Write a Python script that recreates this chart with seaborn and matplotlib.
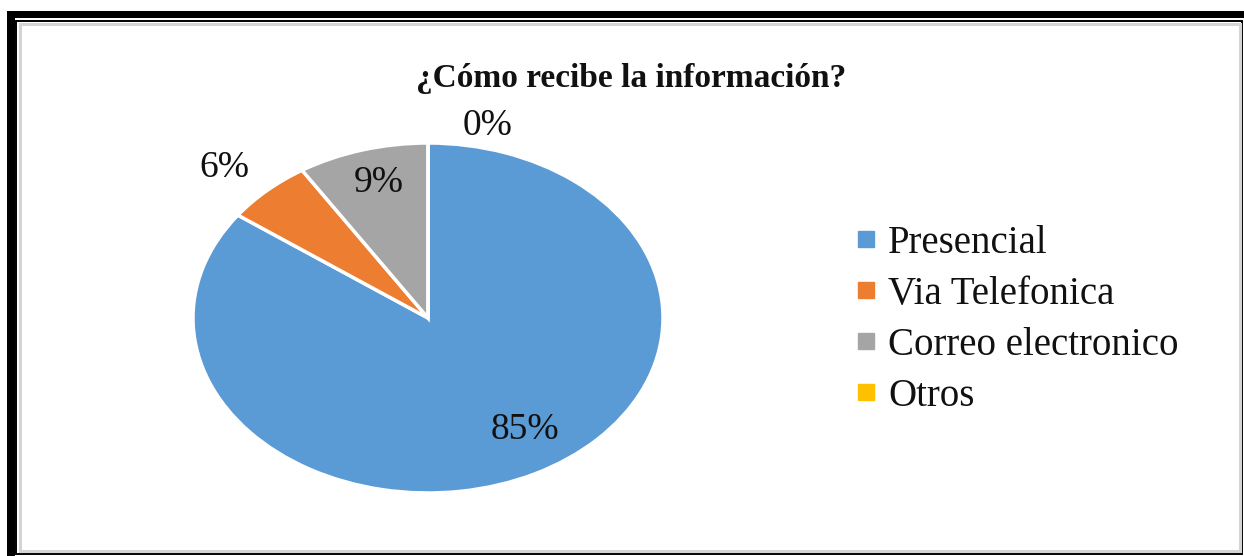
import numpy as np
import matplotlib
matplotlib.use("Agg")
import matplotlib.pyplot as plt
from matplotlib.patches import Rectangle
from matplotlib.lines import Line2D
import seaborn as sns

# data
categories = ["Presencial", "Via Telefonica", "Correo electronico", "Otros"]
percentages = [85, 6, 9, 0]
colors = ["#5B9BD5", "#ED7D31", "#A5A5A5", "#FFC000"]
title = "¿Cómo recibe la información?"

sns.set_theme(style="white")
plt.rcParams["font.family"] = ["Liberation Serif", "DejaVu Serif"]

W, H = 1244, 556
fig = plt.figure(figsize=(W / 100, H / 100), dpi=100)
fig.patch.set_facecolor("white")


def px_box(x0, y0, x1, y1):
    # pixel box (top-left origin) -> figure fraction rect
    return [x0 / W, 1 - y1 / H, (x1 - x0) / W, (y1 - y0) / H]


# pie axes (stretched ellipse like the reference)
ax = fig.add_axes(px_box(193, 143, 663, 493))
wedges, _ = ax.pie(percentages, colors=colors, startangle=90, counterclock=False,
                   wedgeprops=dict(edgecolor="white", linewidth=2.5))
ax.set_aspect("auto")
ax.set_xlim(-1, 1)
ax.set_ylim(-1, 1)
ax.axis("off")

# percent labels: radial distance and angle offset per wedge
label_r = [0.76, 1.22, 0.80, 1.13]
label_da = [6, 2, -1, -13]
for w, p, r, da in zip(wedges, percentages, label_r, label_da):
    ang = np.deg2rad((w.theta1 + w.theta2) / 2 + da)
    ax.text(r * np.cos(ang), r * np.sin(ang), f"{p}%", ha="center", va="center",
            fontsize=27, color="#111111", clip_on=False)

fig.text(631 / W, 1 - 79 / H, title, ha="center", va="center",
         fontsize=24, fontweight="bold", color="#111111")

handles = [Line2D([], [], marker="s", linestyle="none", markersize=11,
                  markerfacecolor=c, markeredgecolor=c) for c in colors]
fig.legend(handles, categories, loc="center left",
           bbox_to_anchor=(855 / W, 1 - 320 / H), frameon=False,
           fontsize=28, handlelength=0.55, handletextpad=0.3,
           labelspacing=0.36, borderaxespad=0, borderpad=0,
           labelcolor="#111111")

# frame: thick black shadow on top/left, thin black inner line, light gray line
fig.patches.append(Rectangle((7 / W, 0), 8 / W, 1 - 11 / H, transform=fig.transFigure,
                             facecolor="black", edgecolor="none"))
fig.patches.append(Rectangle((7 / W, 1 - 18 / H), 1 - 7 / W, 7 / H, transform=fig.transFigure,
                             facecolor="black", edgecolor="none"))
fig.patches.append(Rectangle((16 / W, 1 - 554 / H), (1242 - 16) / W, (554 - 21) / H,
                             transform=fig.transFigure, facecolor="none",
                             edgecolor="black", linewidth=1.4))
fig.patches.append(Rectangle((19.5 / W, 1 - 551 / H), (1239.5 - 19.5) / W, (551 - 24) / H,
                             transform=fig.transFigure, facecolor="none",
                             edgecolor="#d4d4d4", linewidth=2.2))

fig.savefig("out.png", dpi=100, facecolor="white")
